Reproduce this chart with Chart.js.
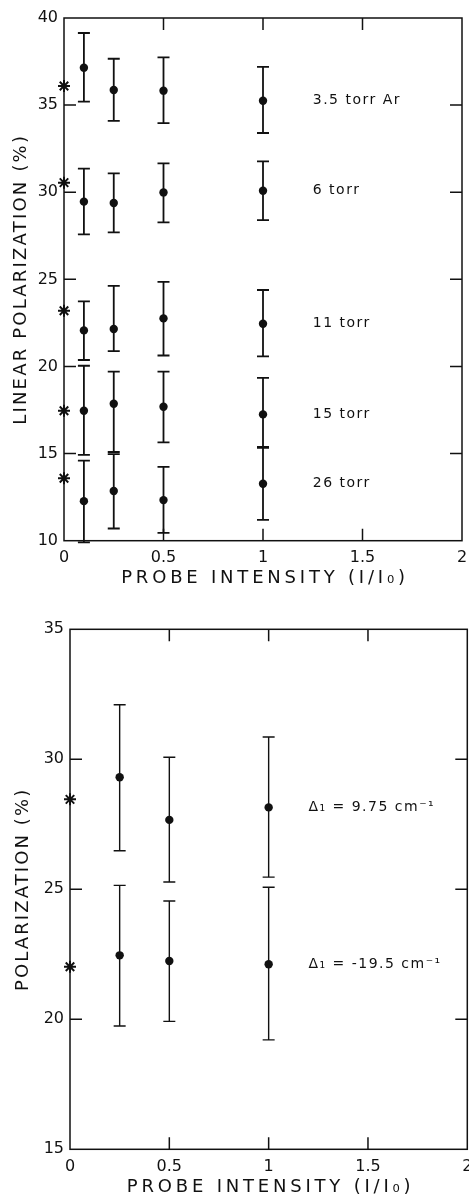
<!DOCTYPE html>
<html>
<head>
<meta charset="utf-8">
<script src="https://cdn.jsdelivr.net/npm/chart.js@4.4.0/dist/chart.umd.min.js"></script>
<style>
  html, body { margin: 0; padding: 0; background: #fff; overflow: hidden; }
  .box { position: absolute; left: 0; width: 490px; }
  #top { top: 0; height: 600px; }
  #bottom { top: 600px; height: 597px; }
</style>
</head>
<body>
<div class="box" id="top"><canvas id="pressureChart"></canvas></div>
<div class="box" id="bottom"><canvas id="detuningChart"></canvas></div>
<script>
// top panel: linear polarization vs probe intensity, five buffer gas pressures
const pressureLabels = ["3.5 torr Ar", "6 torr", "11 torr", "15 torr", "26 torr"];
const pressureIntensity = [0.1, 0.25, 0.5, 1];
const pressureValues = [
  [37.15, 35.87, 35.83, 35.25],
  [29.46, 29.38, 29.99, 30.09],
  [22.07, 22.15, 22.76, 22.45],
  [17.46, 17.86, 17.69, 17.25],
  [12.27, 12.85, 12.33, 13.27],
];
const pressureLow = [
  [35.2, 34.1, 33.97, 33.4],
  [27.58, 27.7, 28.27, 28.4],
  [20.37, 20.88, 20.63, 20.58],
  [14.93, 15.09, 15.64, 15.33],
  [9.9, 10.7, 10.45, 11.2],
];
const pressureHigh = [
  [39.14, 37.66, 37.74, 37.19],
  [31.35, 31.08, 31.66, 31.77],
  [23.74, 24.63, 24.86, 24.39],
  [20.04, 19.7, 19.7, 19.35],
  [14.6, 14.97, 14.24, 15.39],
];
const pressureStars = [36.1, 30.55, 23.2, 17.46, 13.58];
const pressureYTicks = [10, 15, 20, 25, 30, 35, 40];

// bottom panel: polarization vs probe intensity, two detunings
const detuningLabels = ["Δ₁ = 9.75 cm⁻¹", "Δ₁ = -19.5 cm⁻¹"];
const detuningIntensity = [0.25, 0.5, 1];
const detuningValues = [
  [29.31, 27.67, 28.15],
  [22.46, 22.24, 22.12],
];
const detuningLow = [
  [26.48, 25.28, 25.47],
  [19.74, 19.92, 19.21],
];
const detuningHigh = [
  [32.1, 30.08, 30.86],
  [25.15, 24.55, 25.08],
];
const detuningStars = [28.46, 22.02];
const detuningYTicks = [15, 20, 25, 30, 35];

const xTicks = [0, 0.5, 1, 1.5, 2];

const FONT = "'DejaVu Sans', sans-serif";

function paperPlugin(cfg) {
  return {
    id: "paper",
    afterDatasetsDraw(chart) {
      const { ctx, scales: { x, y } } = chart;
      ctx.save();
      ctx.strokeStyle = "#111";
      ctx.lineWidth = cfg.barWidth;
      cfg.low.forEach((row, i) => row.forEach((lo, j) => {
        const px = x.getPixelForValue(cfg.xs[j]);
        const y1 = y.getPixelForValue(lo);
        const y2 = y.getPixelForValue(cfg.high[i][j]);
        ctx.beginPath();
        ctx.moveTo(px, y1); ctx.lineTo(px, y2);
        ctx.moveTo(px - 6, y1); ctx.lineTo(px + 6, y1);
        ctx.moveTo(px - 6, y2); ctx.lineTo(px + 6, y2);
        ctx.stroke();
      }));
      ctx.restore();
    },
    afterDraw(chart) {
      const { ctx, chartArea: a, scales: { x, y } } = chart;
      ctx.save();
      ctx.strokeStyle = "#111";
      ctx.lineWidth = 1.5;
      ctx.strokeRect(a.left, a.top, a.right - a.left, a.bottom - a.top);
      // inward ticks on all four sides
      ctx.beginPath();
      xTicks.slice(1, -1).forEach(v => {
        const px = x.getPixelForValue(v);
        ctx.moveTo(px, a.top); ctx.lineTo(px, a.top + 12);
        ctx.moveTo(px, a.bottom); ctx.lineTo(px, a.bottom - 12);
      });
      cfg.yTicks.slice(1, -1).forEach(v => {
        const py = y.getPixelForValue(v);
        ctx.moveTo(a.left, py); ctx.lineTo(a.left + 12, py);
        ctx.moveTo(a.right, py); ctx.lineTo(a.right - 12, py);
      });
      ctx.stroke();

      // series labels
      ctx.fillStyle = "#111";
      ctx.font = "14px " + FONT;
      ctx.letterSpacing = "1.5px";
      ctx.textAlign = "left";
      ctx.textBaseline = "middle";
      cfg.labels.forEach((t, i) => {
        const row = cfg.values[i];
        ctx.fillText(t, x.getPixelForValue(cfg.labelX), y.getPixelForValue(row[row.length - 1]));
      });

      // axis titles
      ctx.font = "18px " + FONT;
      ctx.textAlign = "center";
      ctx.letterSpacing = "3.8px";
      ctx.fillText("PROBE INTENSITY (I/I₀)", (a.left + a.right) / 2 + 2, cfg.xTitleY);
      ctx.translate(cfg.yTitleX, (a.top + a.bottom) / 2);
      ctx.rotate(-Math.PI / 2);
      ctx.letterSpacing = cfg.yTitleSpacing;
      ctx.fillText(cfg.yTitle, 0, 0);
      ctx.restore();
    },
  };
}

function buildChart(id, cfg) {
  const datasets = cfg.values.map((row, i) => ({
    label: cfg.labels[i],
    data: cfg.xs.map((v, j) => ({ x: v, y: row[j] })),
    pointRadius: 4.2,
    pointHoverRadius: 4.2,
    backgroundColor: "#111",
    borderWidth: 0,
    clip: false,
  }));
  datasets.push({
    label: "I = 0 limit",
    data: cfg.stars.map(v => ({ x: 0, y: v })),
    pointStyle: "star",
    pointRadius: 6,
    borderColor: "#111",
    borderWidth: 2,
    clip: false,
  });

  return new Chart(document.getElementById(id), {
    type: "scatter",
    data: { datasets },
    options: {
      responsive: true,
      maintainAspectRatio: false,
      animation: false,
      events: [],
      layout: { padding: cfg.padding },
      plugins: { legend: { display: false }, tooltip: { enabled: false } },
      scales: {
        x: {
          type: "linear",
          min: 0, max: 2,
          afterBuildTicks: s => { s.ticks = xTicks.map(v => ({ value: v })); },
          afterFit: s => { s.height = cfg.xHeight; },
          grid: { display: false, drawTicks: false },
          border: { display: false },
          ticks: { padding: 8, color: "#111", font: { family: FONT, size: 16 }, callback: v => String(v) },
        },
        y: {
          type: "linear",
          min: cfg.yTicks[0], max: cfg.yTicks[cfg.yTicks.length - 1],
          afterBuildTicks: s => { s.ticks = cfg.yTicks.map(v => ({ value: v })); },
          afterFit: s => { s.width = cfg.yWidth; },
          grid: { display: false, drawTicks: false },
          border: { display: false },
          ticks: { padding: 6, color: "#111", font: { family: FONT, size: 16 }, callback: v => String(v) },
        },
      },
    },
    plugins: [paperPlugin(cfg)],
  });
}

buildChart("pressureChart", {
  labels: pressureLabels,
  xs: pressureIntensity,
  values: pressureValues,
  low: pressureLow,
  high: pressureHigh,
  stars: pressureStars,
  yTicks: pressureYTicks,
  yTitle: "LINEAR POLARIZATION (%)",
  labelX: 1.25,
  barWidth: 1.8,
  padding: { top: 18, right: 28, left: 0, bottom: 0 },
  yWidth: 64,
  xHeight: 59.3,
  xTitleY: 578,
  yTitleX: 21,
  yTitleSpacing: "2.2px",
});

buildChart("detuningChart", {
  labels: detuningLabels,
  xs: detuningIntensity,
  values: detuningValues,
  low: detuningLow,
  high: detuningHigh,
  stars: detuningStars,
  yTicks: detuningYTicks,
  yTitle: "POLARIZATION (%)",
  labelX: 1.2,
  barWidth: 1.4,
  padding: { top: 29.3, right: 22.7, left: 0, bottom: 0 },
  yWidth: 70,
  xHeight: 47.7,
  xTitleY: 587,
  yTitleX: 23,
  yTitleSpacing: "2.1px",
});
</script>
</body>
</html>
